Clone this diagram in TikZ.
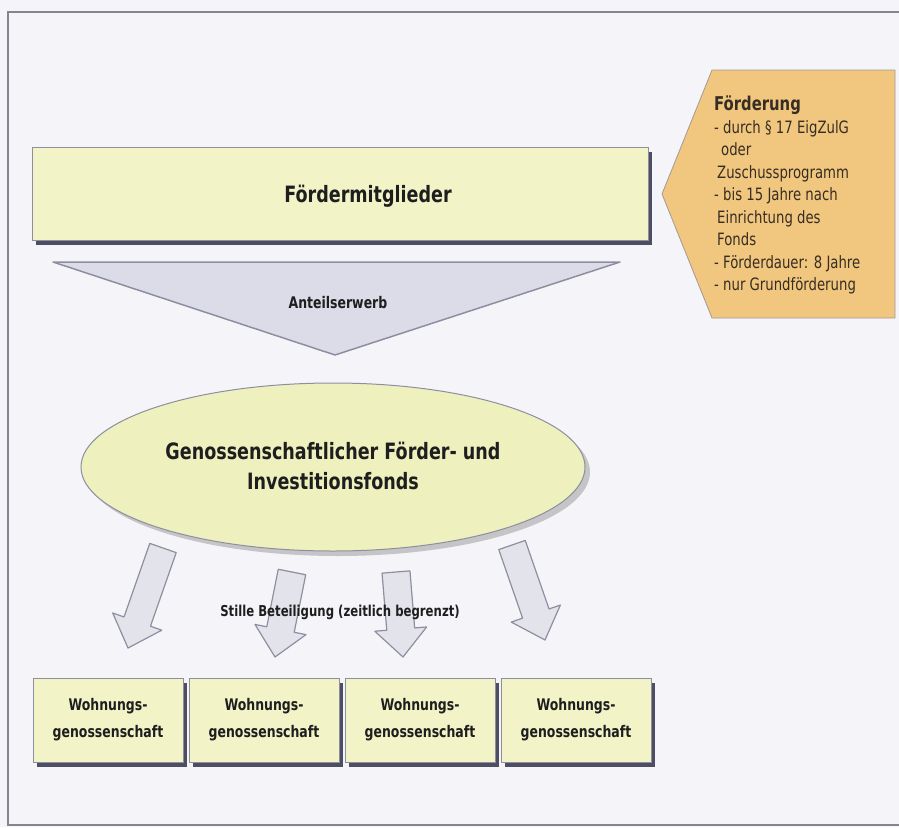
\documentclass[tikz,border=0pt]{standalone}
\usepackage{fontspec}
\setmainfont{DejaVu Sans}[FakeStretch=0.78]
\usepackage{xcolor}
\usepackage{tikz}
\usetikzlibrary{arrows.meta, positioning, calc, shapes, shadows}

\definecolor{seite}{HTML}{F5F5F9}
\definecolor{rahmen}{HTML}{85858E}
\definecolor{kastengelb}{HTML}{F2F4C8}
\definecolor{ellipsengelb}{HTML}{EEF0BE}
\definecolor{foerderorange}{HTML}{F1C67E}
\definecolor{trichter}{HTML}{DCDCE8}
\definecolor{pfeilgrau}{HTML}{E3E3EC}
\definecolor{linie}{HTML}{8E8EA0}
\definecolor{schatten}{HTML}{4E4E62}
\definecolor{schrift}{HTML}{1E1E1E}

% Blockpfeil: Name, Anfang, Spitze
\newcommand{\blockpfeil}[3]{%
  \coordinate (#1hals) at ($(#3)!28pt!(#2)$);
  \draw[pfeil] ($(#2)!14pt!90:(#3)$) -- ($(#1hals)!14pt!90:(#3)$) -- ($(#1hals)!26pt!90:(#3)$) -- (#3)
    -- ($(#1hals)!26pt!-90:(#3)$) -- ($(#1hals)!14pt!-90:(#3)$) -- ($(#2)!14pt!-90:(#3)$) -- cycle;}

\begin{document}
\begin{tikzpicture}[x=1pt, y=-1pt,
    kasten/.style={draw=linie, line width=0.8pt, fill=kastengelb,
      drop shadow={shadow xshift=4pt, shadow yshift=-5pt, fill=schatten, opacity=1}},
    pfeil/.style={draw=linie, line width=1.2pt, fill=pfeilgrau, line join=round},
    schild/.style={text=schrift, font=\bfseries\fontsize{22.5}{30}\selectfont, align=center}]
    \useasboundingbox (0,0) rectangle (899,827);
    \fill[seite] (0,0) rectangle (899,827);
    \draw[rahmen, line width=1.6pt] (899,12) -- (8,12) -- (8,825) -- (899,825);

    % Fördermitglieder oben
    \node[kasten, minimum width=616pt, minimum height=93pt] (mitglieder) at (340,193.5) {};
    \node[schild] (mitgliedertext) at (368,196) {Fördermitglieder};

    % Förderung als Pfeilschild nach links
    \draw[draw=linie!80!foerderorange, line width=0.8pt, fill=foerderorange]
      (662,194) coordinate (spitze) -- (712,70) -- (895,70) -- (895,318) -- (712,318) -- cycle;
    \node[anchor=north west, inner sep=0pt, align=left, text=schrift!85!brown,
      font=\fontsize{17}{22.5}\selectfont] (foerderung) at (714,96)
      {{\bfseries\fontsize{19}{22.5}\selectfont Förderung}\\
       - durch § 17 EigZulG\\
       \hspace*{7pt}oder\\
       \hspace*{3pt}Zuschussprogramm\\
       - bis 15 Jahre nach\\
       \hspace*{3pt}Einrichtung des\\
       \hspace*{3pt}Fonds\\
       - Förderdauer: 8 Jahre\\
       - nur Grundförderung};

    % Anteilserwerb
    \draw[draw=linie, line width=1.5pt, fill=trichter, line join=round]
      (53,262) coordinate (tl) -- (620,262) coordinate (tr) -- (335,355) coordinate (tspitze) -- cycle;
    \node[schild, font=\bfseries\fontsize{16}{20}\selectfont] (anteil) at (338,303) {Anteilserwerb};

    % stille Beteiligungen
    \coordinate (p1a) at (163,548); \coordinate (p1b) at (128,648);
    \coordinate (p2a) at (292,572); \coordinate (p2b) at (275,657);
    \coordinate (p3a) at (396,572); \coordinate (p3b) at (403,657);
    \coordinate (p4a) at (512,545); \coordinate (p4b) at (545,640);
    \blockpfeil{p1}{p1a}{p1b}
    \blockpfeil{p2}{p2a}{p2b}
    \blockpfeil{p3}{p3a}{p3b}
    \blockpfeil{p4}{p4a}{p4b}
    \node[schild, font=\bfseries\fontsize{15}{20}\selectfont] (stille) at (340,612) {Stille Beteiligung (zeitlich begrenzt)};

    % Fonds
    \node[ellipse, draw=linie, line width=1pt, fill=ellipsengelb, minimum width=504pt, minimum height=168pt,
      drop shadow={shadow xshift=5pt, shadow yshift=-5pt, fill=black!35, opacity=0.6}] (fonds) at (333,467) {};
    \node[schild] (fondstext) at (333,466) {Genossenschaftlicher Förder- und\\Investitionsfonds};

    % Wohnungsgenossenschaften
    \node[kasten, schild, minimum width=150pt, minimum height=84pt, font=\bfseries\fontsize{16}{27}\selectfont] (wg1) at (108,720) {Wohnungs-\\genossenschaft};
    \node[kasten, schild, minimum width=150pt, minimum height=84pt, font=\bfseries\fontsize{16}{27}\selectfont] (wg2) at (264,720) {Wohnungs-\\genossenschaft};
    \node[kasten, schild, minimum width=150pt, minimum height=84pt, font=\bfseries\fontsize{16}{27}\selectfont] (wg3) at (420,720) {Wohnungs-\\genossenschaft};
    \node[kasten, schild, minimum width=150pt, minimum height=84pt, font=\bfseries\fontsize{16}{27}\selectfont] (wg4) at (576,720) {Wohnungs-\\genossenschaft};
\end{tikzpicture}
\end{document}
